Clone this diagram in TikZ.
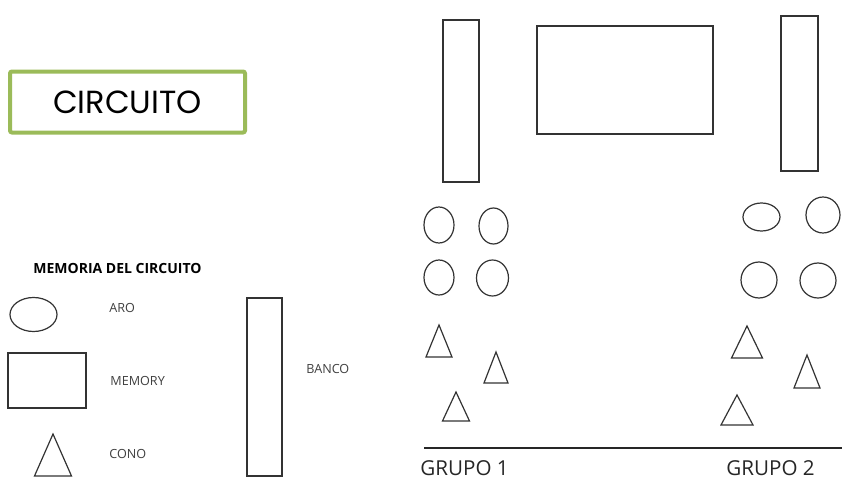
\documentclass[tikz,border=0pt]{standalone}
\usepackage{fontspec}
\setmainfont{Open Sans}
\newfontfamily\titlefont{Poppins}
\usetikzlibrary{shapes.geometric}
\definecolor{olivegreen}{HTML}{9BBB59}

% cone drawn from its apex: x, y, half base, height
\newcommand{\cono}[4]{\draw[coneline] (#1-#3,#2+#4) -- (#1,#2) -- (#1+#3,#2+#4) -- cycle;}

\begin{document}
\begin{tikzpicture}[
        x=0.5pt, y=-0.5pt,
        shapeline/.style={draw=black!80, line width=0.6pt, inner sep=0pt, outer sep=0pt},
        coneline/.style={draw=black!80, line width=0.6pt, line join=miter},
        box/.style={shapeline, rectangle},
        aro/.style={shapeline, ellipse},
        legend/.style={anchor=west, inner sep=0pt, text=black!75, font=\fontsize{6.3}{7.5}\selectfont},
        grupo/.style={anchor=west, inner sep=0pt, text=black!85, font=\fontsize{10.3}{12}\selectfont},
    ]
        \useasboundingbox (0,0) rectangle (842,482);

        % title
        \node[draw=olivegreen, line width=2pt, rounded corners=1pt, minimum width=117.5pt, minimum height=30.5pt, font=\titlefont\fontsize{16}{19}\selectfont] (circuito) at (127.5,102) {CIRCUITO};

        % legend
        \node[anchor=west, inner sep=0pt, font=\bfseries\fontsize{7}{8.5}\selectfont] (memoria) at (33,268) {MEMORIA DEL CIRCUITO};
        \node[aro, minimum width=23.5pt, minimum height=17pt] (aro_leg) at (33.5,314.5) {};
        \node[legend] (aro_txt) at (109,308) {ARO};
        \node[box, minimum width=39pt, minimum height=27.5pt] (memory_leg) at (47,380.5) {};
        \node[legend] (memory_txt) at (110,381) {MEMORY};
        \cono{53}{434}{18.5}{42}
        \node[legend] (cono_txt) at (109,454) {CONO};
        \node[box, minimum width=17.5pt, minimum height=89pt] (banco_leg) at (264.5,387) {};
        \node[legend] (banco_txt) at (306,369) {BANCO};

        % benches and memory
        \node[box, minimum width=18pt, minimum height=81pt] (banco1) at (461,101) {};
        \node[box, minimum width=88pt, minimum height=54pt] (memory) at (625,80) {};
        \node[box, minimum width=18.5pt, minimum height=77.5pt] (banco2) at (799.5,93.5) {};

        % hoops, group 1
        \node[aro, minimum width=15pt, minimum height=18pt] (aro11) at (439,225) {};
        \node[aro, minimum width=14.5pt, minimum height=18pt] (aro12) at (493.5,226) {};
        \node[aro, minimum width=15pt, minimum height=17.5pt] (aro13) at (439,277.5) {};
        \node[aro, minimum width=16pt, minimum height=18pt] (aro14) at (492.5,278) {};

        % hoops, group 2
        \node[aro, minimum width=18.5pt, minimum height=14pt] (aro21) at (761.5,217) {};
        \node[aro, minimum width=17pt, minimum height=18pt] (aro22) at (823,215) {};
        \node[aro, minimum width=18pt, minimum height=18pt] (aro23) at (759,280) {};
        \node[aro, minimum width=18pt, minimum height=17.5pt] (aro24) at (818,280.5) {};

        % cones
        \cono{439}{325}{13}{32}
        \cono{496}{352}{12}{31}
        \cono{456}{392}{13.5}{29}
        \cono{747}{326}{15.5}{32}
        \cono{807}{355}{13}{33}
        \cono{737}{395}{16}{30}

        % ground line
        \coordinate (suelo_ini) at (424,448);
        \coordinate (suelo_fin) at (842,448);
        \draw[black!85, line width=0.6pt] (suelo_ini) -- (suelo_fin);
        \node[grupo] (grupo1) at (420,468) {GRUPO 1};
        \node[grupo] (grupo2) at (726,468) {GRUPO 2};
    \end{tikzpicture}
\end{document}
